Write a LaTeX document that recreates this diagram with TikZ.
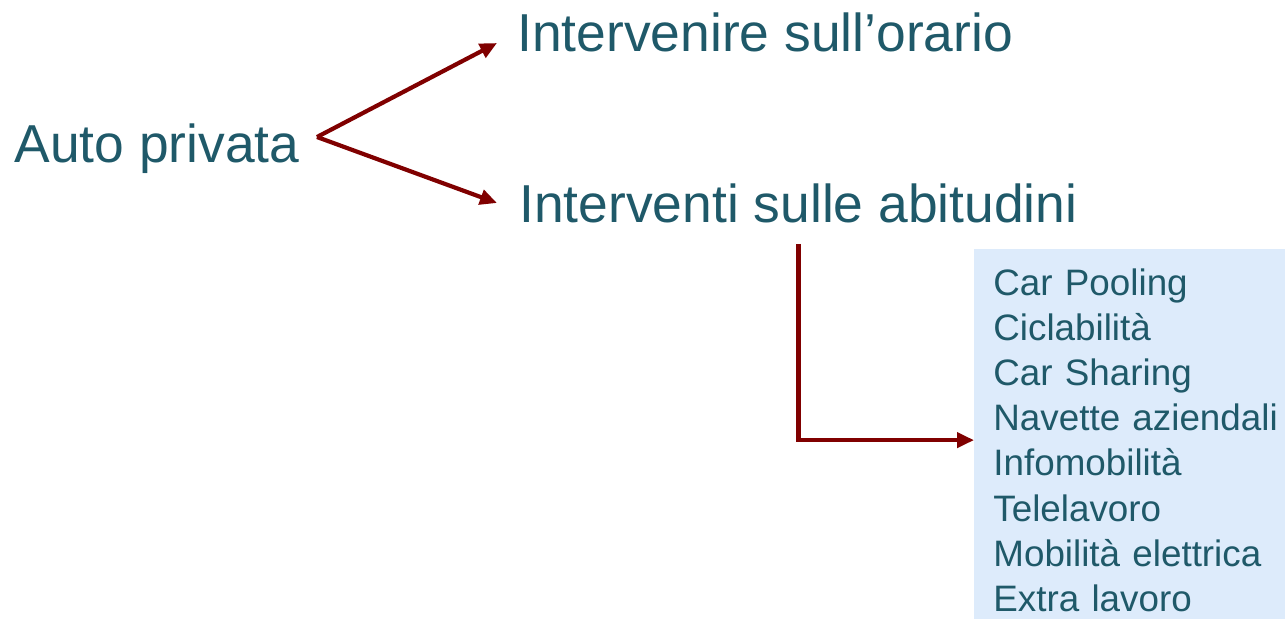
\documentclass[tikz,border=0pt]{standalone}
\usepackage{fontspec}
\setmainfont{Liberation Sans}
\usetikzlibrary{arrows.meta}
\definecolor{testo}{RGB}{31,89,105}
\definecolor{rossoscuro}{RGB}{128,0,0}
\definecolor{sfondo}{RGB}{221,235,251}
\tikzset{
	voce/.style={anchor=base west, inner sep=0pt, text=testo, font=\fontsize{26.7}{30}\selectfont},
	freccia/.style={draw=rossoscuro, line width=2.1pt, -{Triangle[length=8.5pt,width=7.5pt]}},
	elenco/.style={anchor=north west, fill=sfondo, text=testo, inner xsep=9.5pt, inner ysep=9.5pt, text width=146pt, align=left, font=\fontsize{18.4}{22.6}\selectfont}
}

\begin{document}
\begin{tikzpicture}[x=0.5pt,y=-0.5pt]
					\useasboundingbox (0,0) rectangle (1285,618);
					\node [voce] (auto) at (14,162) {Auto privata};
					\node [voce] (orario) at (517,51) {Intervenire sull’orario};
					\node [voce] (abit) at (519,222) {Interventi sulle abitudini};
					\coordinate (apice) at (317,137);
					\coordinate (p1) at (497,43);
					\coordinate (p2) at (497,203);
					\draw [freccia] (apice) -- (p1);
					\draw [freccia] (apice) -- (p2);
					%Elenco
					\node [elenco] (lista) at (974,249) {Car Pooling\\ Ciclabilità\\ Car Sharing\\ Navette aziendali\\ Infomobilità\\ Telelavoro\\ Mobilità elettrica\\ Extra lavoro};
					\draw [freccia, shorten <=10.5pt] (abit.south) |- (lista.west);
\end{tikzpicture}
\end{document}
